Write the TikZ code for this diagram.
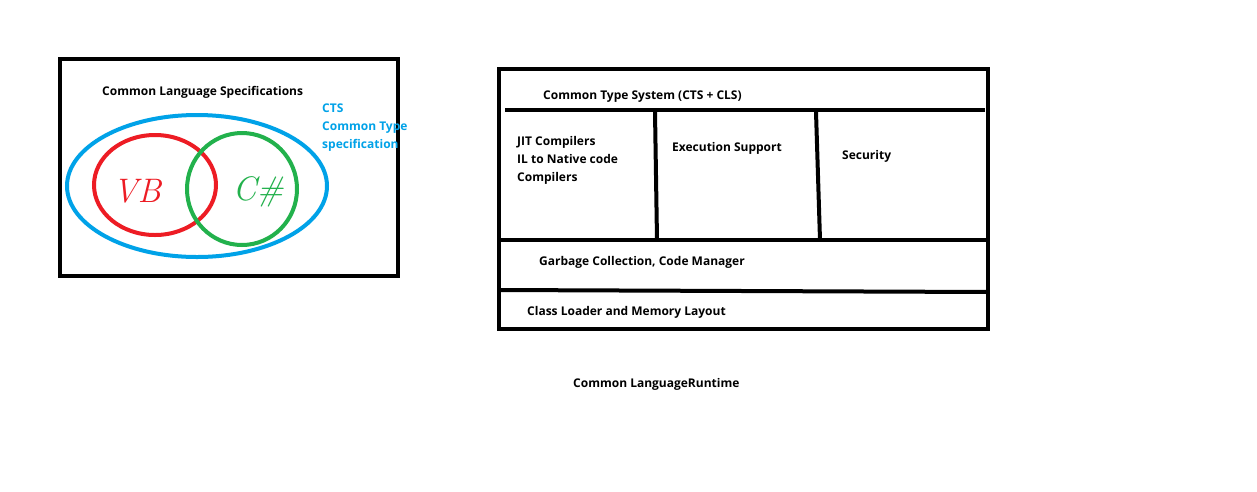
\documentclass[tikz,border=0pt]{standalone}
\usepackage{fontspec}
\newfontfamily\boxfont{Open Sans}
\usetikzlibrary{positioning}
\definecolor{paintblue}{RGB}{0,162,232}
\definecolor{paintred}{RGB}{237,28,36}
\definecolor{paintgreen}{RGB}{34,177,76}
\tikzset{
  bar/.style={line width=4pt},
  txt/.style={font=\boxfont\bfseries\fontsize{12}{18}\selectfont, anchor=west, inner sep=0pt, align=left},
  hand/.style={font=\itshape\fontsize{34}{34}\selectfont, inner sep=0pt}
}
\begin{document}
\begin{tikzpicture}[x=1pt, y=-1pt]
        \useasboundingbox[fill=white] (0,0) rectangle (1257,491);
        % Left box
        \draw[bar] (60,59) rectangle (398,276);
        \node[txt] (cls) at (102,92) {Common Language Specifications};
        \draw[bar, paintblue] (197,186) ellipse [x radius=130pt, y radius=71pt];
        \draw[bar, paintred] (155,185) ellipse [x radius=61pt, y radius=50pt];
        \draw[bar, paintgreen] (242,189) ellipse [x radius=55pt, y radius=56pt];
        \node[txt, paintblue] (cts) at (322,128) {CTS\\Common Type\\specification};
        \node[hand, paintred] (vb) at (137,191) {VB};
        \node[hand, paintgreen] (cs) at (258,192) {C\#};

        % Right box
        \draw[bar] (499,69) rectangle (988,329);
        \draw[bar] (505,110) -- (985,110);
        \draw[bar] (655,112) -- (657,240);
        \draw[bar] (816,112) -- (820,240);
        \draw[bar] (499,240) -- (988,240);
        \draw[bar] (499,290) -- (988,292);
        \node[txt] (cts2) at (543,97) {Common Type System (CTS + CLS)};
        \node[txt] (jit) at (517,160) {JIT Compilers\\IL to Native code\\Compilers};
        \node[txt] (exec) at (672,148) {Execution Support};
        \node[txt] (sec) at (842,156) {Security};
        \node[txt] (gc) at (539,262) {Garbage Collection, Code Manager};
        \node[txt] (cl) at (527,312) {Class Loader and Memory Layout};
        \node[txt] (clr) at (573,384) {Common LanguageRuntime};
\end{tikzpicture}
\end{document}
